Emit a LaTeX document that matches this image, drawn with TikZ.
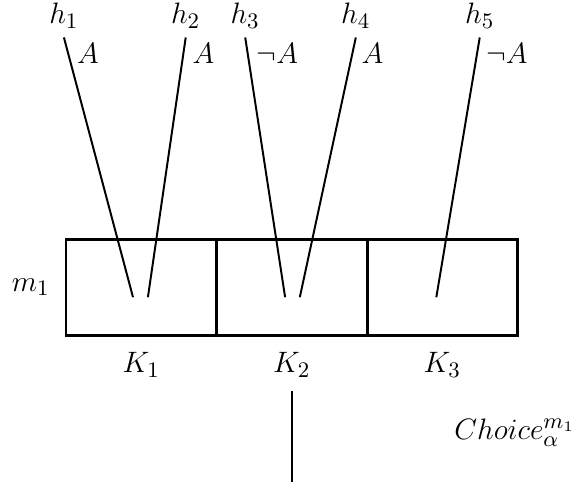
\documentclass[tikz,border=0pt]{standalone}
\usepackage{amssymb,amsmath}
\usepackage{tikz}
\usetikzlibrary{positioning}

\begin{document}
\begin{tikzpicture}[thick, font=\fontsize{13}{16}\selectfont, cell/.style={draw, very thick, rectangle, minimum width=2.15cm, minimum height=1.36cm, outer sep=0pt, inner sep=0pt}]
		\useasboundingbox (-0.943,-2.186) rectangle (7.371,4.786);
		% module m_1 with its three cells
		\node[cell] (c1) at (1.075,0.68) {};
		\node[cell, right=0pt of c1] (c2) {};
		\node[cell, right=0pt of c2] (c3) {};
		\node[left=0.1cm of c1] (m1) {$m_1$};
		\node[below=0.12cm of c1] (k1) {$K_1$};
		\node[below=0.12cm of c2] (k2) {$K_2$};
		\node[below=0.12cm of c3] (k3) {$K_3$};
		% hypotheses
		\node (h1) at (-0.03,4.56) {$h_1$};
		\node (h2) at (1.71,4.56) {$h_2$};
		\node (h3) at (2.56,4.56) {$h_3$};
		\node (h4) at (4.14,4.56) {$h_4$};
		\node (h5) at (5.91,4.56) {$h_5$};
		\coordinate (e1) at (0.957,0.54);
		\coordinate (e2) at (1.17,0.54);
		\coordinate (e3) at (3.13,0.54);
		\coordinate (e4) at (3.34,0.54);
		\coordinate (e5) at (5.29,0.54);
		\draw (h1.south) -- (e1) node[pos=0.06, right] {$A$};
		\draw (h2.south) -- (e2) node[pos=0.06, right] {$A$};
		\draw (h3.south) -- (e3) node[pos=0.06, right] {$\neg A$};
		\draw (h4.south) -- (e4) node[pos=0.06, right] {$A$};
		\draw (h5.south) -- (e5) node[pos=0.06, right] {$\neg A$};
		% choice
		\coordinate (bot) at (k2.south |- 0,-2.1);
		\draw (k2.south) ++(0,-0.07) -- (bot);
		\node (ch) at (6.41,-1.40) {$Choice_{\alpha}^{m_1}$};
	\end{tikzpicture}
\end{document}
